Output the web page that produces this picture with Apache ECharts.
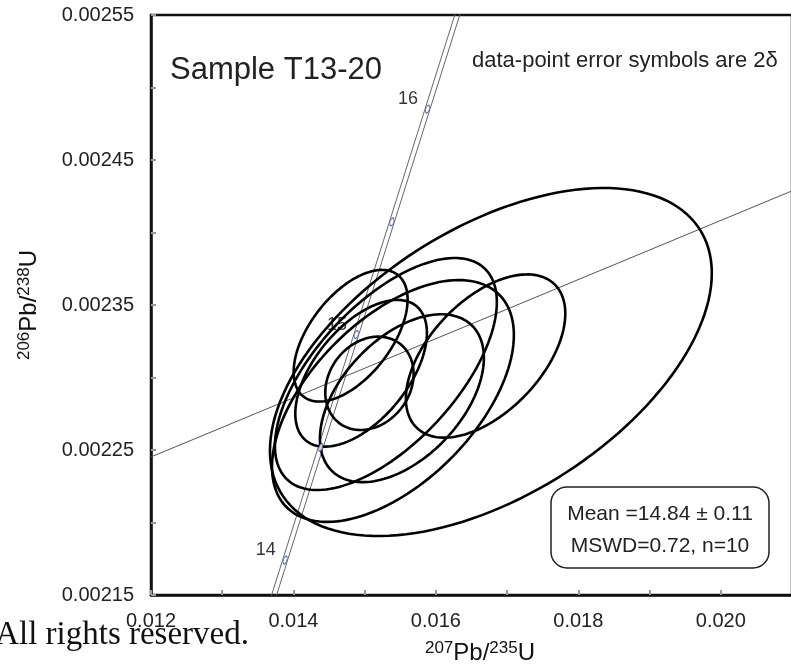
<!DOCTYPE html>
<html><head><meta charset="utf-8">
<script src="https://cdn.jsdelivr.net/npm/echarts@6.0.0/dist/echarts.min.js"></script>
<style>html,body{margin:0;padding:0;background:#fff;overflow:hidden}#c{width:791px;height:665px}</style>
</head><body><div id="c"></div>
<script>
// ---- data: 2-sigma error ellipses (207Pb/235U, err, 206Pb/238U, err, rho)
const ellX    = [0.016772, 0.014803, 0.015067, 0.015523, 0.015397, 0.015298, 0.016698, 0.014950];
const ellXErr = [0.003102, 0.000800, 0.000620, 0.001151, 0.001698, 0.001558, 0.001119, 0.000924];
const ellY    = [0.0023107, 0.0023288, 0.0022960, 0.0022857, 0.0022838, 0.0023024, 0.0023148, 0.0023029];
const ellYErr = [0.0001200, 0.0000454, 0.0000322, 0.0000579, 0.0000834, 0.0000800, 0.0000563, 0.0000506];
const ellRho  = [0.51, 0.55, 0.20, 0.48, 0.545, 0.62, 0.52, 0.55];

// ---- concordia (age in Ma)
const concAge = [13.5, 14, 14.5, 15, 15.5, 16, 16.5];
const conc207 = [0.0133843, 0.0138834, 0.0143828, 0.0148824, 0.0153823, 0.0158824, 0.0163828];
const conc206 = [0.0020964, 0.0021741, 0.0022518, 0.0023296, 0.0024073, 0.0024851, 0.0025628];
const concBand = 0.000035;
const labelAges = [14, 15, 16];

// ---- reference line
const refLineX = [0.012, 0.021];
const refLineY = [0.0022452, 0.0024287];

// ---- tick labels
const xTickLabels = ['0.012', '0.014', '0.016', '0.018', '0.020'];
const yTickLabels = ['0.00215', '0.00225', '0.00235', '0.00245', '0.00255'];

const FONT = '"Liberation Sans", Arial, sans-serif';

function pick(labels, v) {
  for (const l of labels) if (Math.abs(parseFloat(l) - v) < 1e-9) return l;
  return '';
}

const chart = echarts.init(document.getElementById('c'), null, {renderer: 'canvas'});

const ellData = ellX.map((x, i) => [x, ellXErr[i], ellY[i], ellYErr[i], ellRho[i]]);
const concLo = concAge.map((a, i) => [conc207[i] - concBand, conc206[i]]);
const concHi = concAge.map((a, i) => [conc207[i] + concBand, conc206[i]]);
const markers = [];
concAge.forEach((a, i) => { if (a >= 14 && a <= 16) markers.push({value: [conc207[i], conc206[i]], age: a}); });

const option = {
  animation: false,
  backgroundColor: '#fff',
  grid: {left: 151, top: 15, width: 641, height: 580, show: true, borderColor: '#111', borderWidth: 2.5, outerBoundsMode: 'none', containLabel: false},
  xAxis: {
    type: 'value', min: 0.012, max: 0.021, interval: 0.001,
    axisLine: {show: true, onZero: false, lineStyle: {color: '#111', width: 2.5}},
    axisTick: {show: true, inside: true, length: 5, lineStyle: {color: '#999', width: 2}},
    axisLabel: {margin: 16, fontSize: 20, color: '#222', fontFamily: FONT, formatter: v => pick(xTickLabels, v)},
    splitLine: {show: false}
  },
  yAxis: {
    type: 'value', min: 0.00215, max: 0.00255, interval: 0.00005,
    axisLine: {show: true, onZero: false, lineStyle: {color: '#111', width: 2.5}},
    axisTick: {show: true, inside: true, length: 5, lineStyle: {color: '#999', width: 2}},
    axisLabel: {margin: 17, fontSize: 20, color: '#222', fontFamily: FONT, formatter: v => pick(yTickLabels, v)},
    splitLine: {show: false}
  },
  series: [
    {type: 'line', data: refLineX.map((x, i) => [x, refLineY[i]]), showSymbol: false, lineStyle: {color: '#555', width: 1}, z: 1, clip: true},
    {type: 'line', data: concLo, showSymbol: false, smooth: false, lineStyle: {color: '#666', width: 1}, z: 2, clip: true},
    {type: 'line', data: concHi, showSymbol: false, smooth: false, lineStyle: {color: '#666', width: 1}, z: 2, clip: true},
    {
      type: 'custom', data: ellData, z: 3, clip: true,
      encode: {x: 0, y: 2},
      renderItem: function (params, api) {
        const x0 = api.value(0), sx = api.value(1), y0 = api.value(2), sy = api.value(3), r = api.value(4);
        const q = Math.sqrt(1 - r * r);
        const pts = [];
        for (let k = 0; k < 144; k++) {
          const t = 2 * Math.PI * k / 144;
          pts.push(api.coord([x0 + sx * Math.cos(t), y0 + sy * (r * Math.cos(t) + q * Math.sin(t))]));
        }
        return {type: 'polygon', shape: {points: pts}, style: {fill: 'none', stroke: '#000', lineWidth: 2.6}};
      }
    },
    {
      type: 'scatter', data: markers, z: 5,
      symbol: 'circle', symbolSize: [3.5, 8], symbolRotate: -17,
      itemStyle: {color: '#fff', borderColor: '#3a4aa0', borderWidth: 1},
      label: {
        show: true, position: 'left', distance: 6, offset: [0, -10],
        fontSize: 18, color: '#000', fontFamily: FONT,
        formatter: p => labelAges.indexOf(p.data.age) >= 0 ? String(p.data.age) : ''
      },
      emphasis: {disabled: true}
    }
  ],
  graphic: [
    {type: 'text', x: 170, y: 70, style: {text: 'Sample T13-20', x: 0, y: 0, fill: '#222', font: '31px ' + FONT, align: 'left', verticalAlign: 'middle'}},
    {type: 'text', x: 472, y: 61, style: {text: 'data-point error symbols are 2δ', x: 0, y: 0, fill: '#222', font: '22px ' + FONT, align: 'left', verticalAlign: 'middle'}},
    {type: 'rect', shape: {x: 551, y: 487, width: 218, height: 81, r: 16}, style: {fill: '#fff', stroke: '#222', lineWidth: 1.5}, z: 10},
    {type: 'text', x: 660, y: 514, z: 11, style: {text: 'Mean =14.84 ± 0.11', x: 0, y: 0, fill: '#222', font: '21px ' + FONT, align: 'center', verticalAlign: 'middle'}},
    {type: 'text', x: 660, y: 546, z: 11, style: {text: 'MSWD=0.72, n=10', x: 0, y: 0, fill: '#222', font: '21px ' + FONT, align: 'center', verticalAlign: 'middle'}},
    {type: 'text', x: 480, y: 640, z: 11, style: {
      text: '{s|207}{m|Pb/}{s|235}{m|U}', x: 0, y: 0, align: 'center', verticalAlign: 'top',
      rich: {s: {fontSize: 17, fontFamily: FONT, fill: '#111', color: '#111', lineHeight: 17, verticalAlign: 'top'},
             m: {fontSize: 24, fontFamily: FONT, fill: '#111', color: '#111', lineHeight: 26}}
    }},
    {type: 'text', x: 29, y: 305, rotation: Math.PI / 2, z: 11, style: {
      text: '{s|206}{m|Pb/}{s|238}{m|U}', x: 0, y: 0, align: 'center', verticalAlign: 'middle',
      rich: {s: {fontSize: 17, fontFamily: FONT, fill: '#111', color: '#111', lineHeight: 17, verticalAlign: 'top'},
             m: {fontSize: 24, fontFamily: FONT, fill: '#111', color: '#111', lineHeight: 26}}
    }},
    {type: 'text', x: 249, y: 635, z: 12, style: {text: 'All rights reserved.', x: 0, y: 0, fill: '#111', font: '33px "Liberation Serif", "DejaVu Serif", serif', align: 'right', verticalAlign: 'middle'}}
  ]
};
chart.setOption(option);
</script></body></html>
